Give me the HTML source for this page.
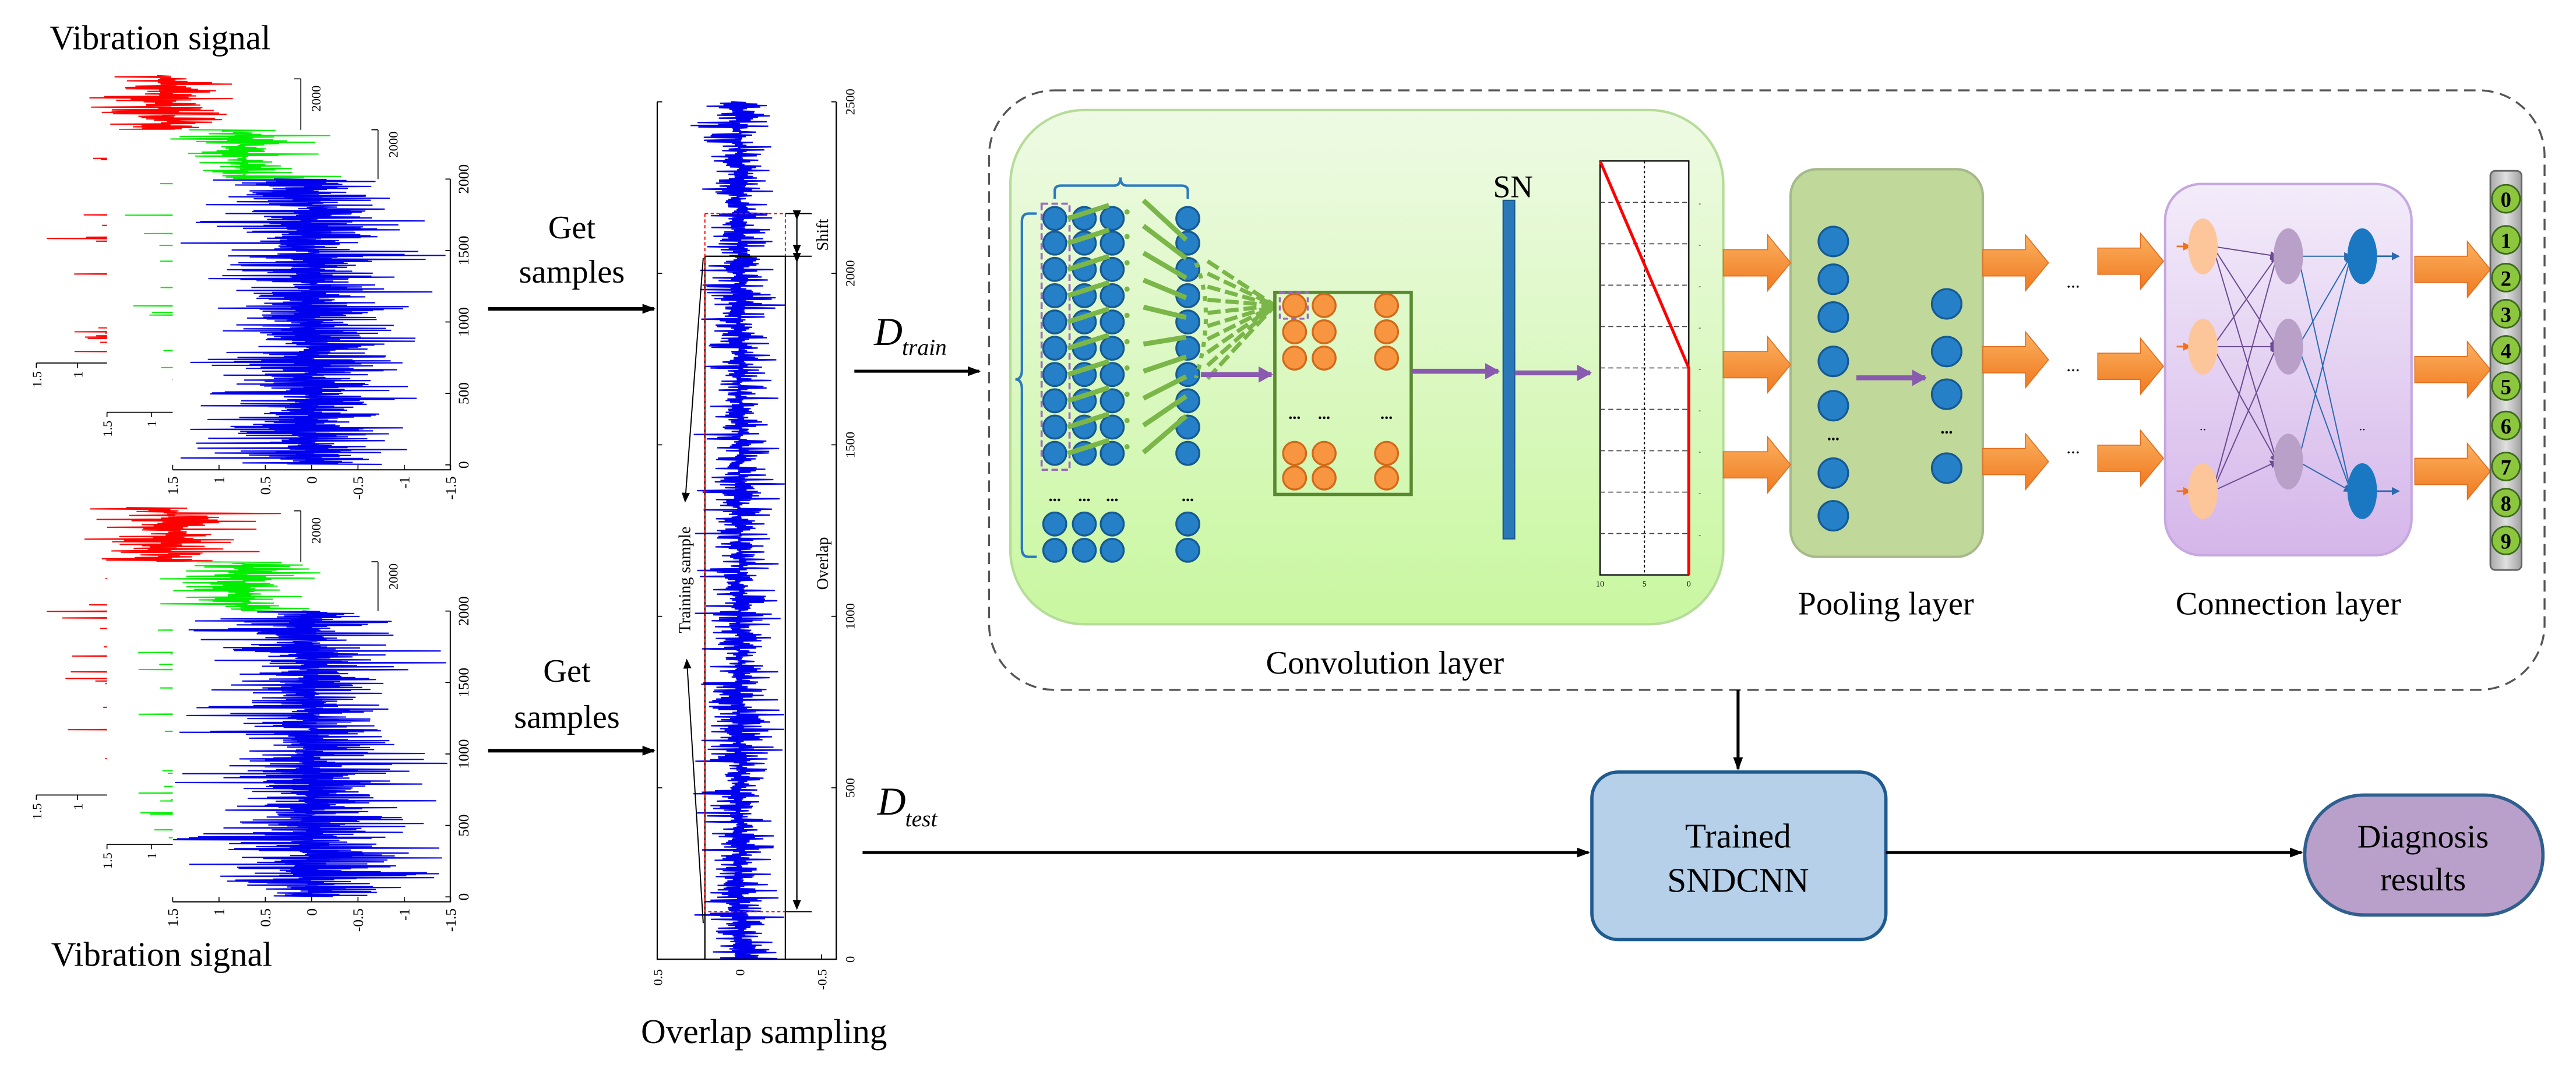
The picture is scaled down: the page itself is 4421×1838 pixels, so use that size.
<!DOCTYPE html>
<html><head><meta charset="utf-8"><style>
html,body{margin:0;padding:0;background:#fff;}
svg{display:block;}
text{font-family:"Liberation Serif",serif;}
</style></head><body>
<svg id="s" xmlns="http://www.w3.org/2000/svg" width="4421" height="1838" viewBox="0 0 1568 652">
<defs>
<marker id="ah" markerWidth="8" markerHeight="8" refX="7" refY="4" orient="auto" markerUnits="userSpaceOnUse"><path d="M0,1 L8,4 L0,7 Z" fill="#000"/></marker>
<marker id="ahs" markerWidth="6" markerHeight="6" refX="5" refY="3" orient="auto" markerUnits="userSpaceOnUse"><path d="M0,0.5 L6,3 L0,5.5 Z" fill="#000"/></marker>
<marker id="ap" markerWidth="10" markerHeight="10" refX="8" refY="5" orient="auto" markerUnits="userSpaceOnUse"><path d="M0,0 L9,5 L0,10 Z" fill="#8a5ab0"/></marker>
<marker id="apu" markerWidth="5" markerHeight="5" refX="4" refY="2.5" orient="auto" markerUnits="userSpaceOnUse"><path d="M0,0 L5,2.5 L0,5 Z" fill="#6a4a90"/></marker>
<marker id="abl" markerWidth="5" markerHeight="5" refX="4" refY="2.5" orient="auto" markerUnits="userSpaceOnUse"><path d="M0,0 L5,2.5 L0,5 Z" fill="#2a6ab0"/></marker>
<marker id="aor" markerWidth="5" markerHeight="5" refX="4" refY="2.5" orient="auto" markerUnits="userSpaceOnUse"><path d="M0,0 L5,2.5 L0,5 Z" fill="#f07020"/></marker>
<linearGradient id="gconv" x1="0" y1="0" x2="0" y2="1"><stop offset="0" stop-color="#eefae4"/><stop offset="1" stop-color="#c9f7a0"/></linearGradient>
<linearGradient id="gcon" x1="0" y1="0" x2="0" y2="1"><stop offset="0" stop-color="#f3ecfa"/><stop offset="1" stop-color="#d5b6ea"/></linearGradient>
<linearGradient id="gout" x1="0" y1="0" x2="1" y2="0"><stop offset="0" stop-color="#a8a8a8"/><stop offset="0.5" stop-color="#e0e0e0"/><stop offset="1" stop-color="#a0a0a0"/></linearGradient>
<linearGradient id="gor" x1="0" y1="0" x2="0" y2="1"><stop offset="0" stop-color="#fbb060"/><stop offset="1" stop-color="#f07a20"/></linearGradient>
</defs>
<g id="sig"></g>

<text x="30" y="30" font-size="21">Vibration signal</text>
<text x="31" y="588" font-size="21">Vibration signal</text>
<text x="348" y="145" font-size="20" text-anchor="middle">Get</text>
<text x="348" y="172" font-size="20" text-anchor="middle">samples</text>
<line x1="297" y1="188" x2="398" y2="188" stroke="#000" stroke-width="2.2" marker-end="url(#ah)"/>
<text x="345" y="415" font-size="20" text-anchor="middle">Get</text>
<text x="345" y="443" font-size="20" text-anchor="middle">samples</text>
<line x1="297" y1="457" x2="398" y2="457" stroke="#000" stroke-width="2.2" marker-end="url(#ah)"/>
<text x="465" y="635" font-size="21" text-anchor="middle">Overlap sampling</text>

<g id="ov"></g>

<text x="532" y="210" font-size="24" font-style="italic">D</text>
<text x="549" y="216" font-size="14" font-style="italic">train</text>
<line x1="520" y1="226" x2="596" y2="226" stroke="#000" stroke-width="1.8" marker-end="url(#ah)"/>
<text x="534" y="496" font-size="24" font-style="italic">D</text>
<text x="551" y="503" font-size="14" font-style="italic">test</text>
<line x1="525" y1="519" x2="967" y2="519" stroke="#000" stroke-width="1.8" marker-end="url(#ah)"/>

<rect x="602" y="55" width="947" height="365" rx="40" fill="none" stroke="#555" stroke-width="1.2" stroke-dasharray="7,4"/>
<rect x="615" y="67" width="434" height="313" rx="45" fill="url(#gconv)" stroke="#b5dc98" stroke-width="1.5"/>
<text x="843" y="410" font-size="20" text-anchor="middle">Convolution layer</text>
<g id="conv"></g>

<text x="921" y="120" font-size="19" text-anchor="middle">SN</text>
<rect x="915" y="122" width="7" height="206" fill="#2a78b8" stroke="#1c5a90" stroke-width="0.8"/>
<line x1="859" y1="226" x2="912" y2="226" stroke="#8a5ab0" stroke-width="3" marker-end="url(#ap)"/>
<line x1="922" y1="227" x2="968" y2="227" stroke="#8a5ab0" stroke-width="3" marker-end="url(#ap)"/>
<g id="plt"></g>

<rect x="1090" y="103" width="117" height="236" rx="16" fill="#c0d99b" stroke="#a6b98a" stroke-width="1.5"/>
<text x="1148" y="374" font-size="20" text-anchor="middle">Pooling layer</text>
<line x1="1130" y1="230" x2="1172" y2="230" stroke="#8a5ab0" stroke-width="3" marker-end="url(#ap)"/>
<rect x="1318" y="112" width="150" height="226" rx="22" fill="url(#gcon)" stroke="#c6a8e0" stroke-width="1.5"/>
<text x="1393" y="374" font-size="20" text-anchor="middle">Connection layer</text>
<g id="pc"></g>

<rect x="1516" y="104" width="19" height="243" rx="3" fill="url(#gout)" stroke="#666" stroke-width="1"/>
<g id="outc"></g>

<line x1="1058" y1="420" x2="1058" y2="468" stroke="#000" stroke-width="1.8" marker-end="url(#ah)"/>
<rect x="969" y="470" width="179" height="102" rx="16" fill="#b5d0e8" stroke="#1f5a90" stroke-width="2"/>
<text x="1058" y="516" font-size="21" text-anchor="middle">Trained</text>
<text x="1058" y="543" font-size="21" text-anchor="middle">SNDCNN</text>
<line x1="1148" y1="519" x2="1401" y2="519" stroke="#000" stroke-width="1.8" marker-end="url(#ah)"/>
<rect x="1403" y="484" width="145" height="73" rx="36" fill="#b9a0ca" stroke="#2f5f8f" stroke-width="2"/>
<text x="1475" y="516" font-size="20" text-anchor="middle">Diagnosis</text>
<text x="1475" y="542" font-size="20" text-anchor="middle">results</text>
</svg>
<script>
(function(){
var NS="http://www.w3.org/2000/svg";
function el(p,t,a,txt){var e=document.createElementNS(NS,t);for(var k in a)e.setAttribute(k,a[k]);if(txt!==undefined)e.textContent=txt;p.appendChild(e);return e;}
var seed=12345;function rnd(){seed=(seed*1103515245+12345)%2147483648;return seed/2147483648;}
function gauss(){var u=rnd()||1e-6,v=rnd();return Math.sqrt(-2*Math.log(u))*Math.cos(6.2832*v);}
var sig=document.getElementById('sig');
function wave(p,cx,y0,y1,amp,col,sw,step,cap){var d="";var flip=1;for(var y=y0;y<=y1;y+=step){var a=Math.abs(gauss())*amp;if(rnd()<0.03)a*=1.8;if(a>cap)a=cap*(0.85+0.15*rnd());flip=-flip;d+=(d?"L":"M")+(cx+flip*a).toFixed(1)+","+y.toFixed(2);}el(p,'path',{d:d,fill:'none',stroke:col,'stroke-width':sw});}
function group(dy){
 var g=el(sig,'g',{transform:'translate(0,'+dy+')'});
 wave(g,103,46,216,24,'#ff0000',0.7,0.4,78);
 el(g,'rect',{x:65,y:79,width:166,height:174,fill:'#fff'});
 el(g,'path',{d:'M183,48 V79 M179,48 H183',stroke:'#000','stroke-width':0.6,fill:'none'});
 el(g,'text',{x:0,y:0,'font-size':8,transform:'translate(195,52) rotate(-90)','text-anchor':'end'},'2000');
 el(g,'path',{d:'M22,221 H65 M22,221 v3 M47,221 v3',stroke:'#000','stroke-width':0.6,fill:'none'});
 el(g,'text',{'font-size':8,transform:'translate(25,226) rotate(-90)','text-anchor':'end'},'1.5');
 el(g,'text',{'font-size':8,transform:'translate(50,226) rotate(-90)','text-anchor':'end'},'1');
 wave(g,148,79,252,24,'#00ee00',0.7,0.4,72);
 el(g,'rect',{x:105,y:109,width:171,height:176,fill:'#fff'});
 el(g,'path',{d:'M230,79 V109 M226,79 H230',stroke:'#000','stroke-width':0.6,fill:'none'});
 el(g,'text',{'font-size':8,transform:'translate(242,80) rotate(-90)','text-anchor':'end'},'2000');
 el(g,'path',{d:'M65,251 H105 M65,251 v3 M92,251 v3',stroke:'#000','stroke-width':0.6,fill:'none'});
 el(g,'text',{'font-size':8,transform:'translate(68,256) rotate(-90)','text-anchor':'end'},'1.5');
 el(g,'text',{'font-size':8,transform:'translate(95,256) rotate(-90)','text-anchor':'end'},'1');
 wave(g,189,109,283,28,'#0000ee',0.75,0.3,84);
 el(g,'path',{d:'M105,286 H274 V109',stroke:'#000','stroke-width':0.7,fill:'none'});
 var lab=['1.5','1','0.5','0','-0.5','-1','-1.5'];
 for(var i=0;i<7;i++){var x=105+i*28.2;el(g,'line',{x1:x,y1:286,x2:x,y2:283,stroke:'#000','stroke-width':0.6});el(g,'text',{'font-size':9,transform:'translate('+(x+3)+',290) rotate(-90)','text-anchor':'end'},lab[i]);}
 var yl=['0','500','1000','1500','2000'];
 for(var i=0;i<5;i++){var y=283-i*43.5;el(g,'line',{x1:271,y1:y,x2:274,y2:y,stroke:'#000','stroke-width':0.6});el(g,'text',{'font-size':9,transform:'translate(285,'+y+') rotate(-90)','text-anchor':'middle'},yl[i]);}
}
group(0);group(263);
var ov=document.getElementById('ov');
wave(ov,450,62,584,10,'#0000ee',0.8,0.45,30);
el(ov,'path',{d:'M400,62 V584 H509 V62',stroke:'#000','stroke-width':0.8,fill:'none'});
var yl=['0','500','1000','1500','2000','2500'];
for(var i=0;i<6;i++){var y=584-i*104.4;el(ov,'line',{x1:400,y1:y,x2:403,y2:y,stroke:'#000','stroke-width':0.6});el(ov,'line',{x1:506,y1:y,x2:509,y2:y,stroke:'#000','stroke-width':0.6});el(ov,'text',{'font-size':8,transform:'translate(520,'+y+') rotate(-90)','text-anchor':'middle'},yl[i]);}
[['0.5',400],['0',450],['-0.5',500]].forEach(function(a){el(ov,'line',{x1:a[1],y1:584,x2:a[1],y2:581,stroke:'#000','stroke-width':0.6});el(ov,'text',{'font-size':8,transform:'translate('+(a[1]+3)+',590) rotate(-90)','text-anchor':'end'},a[0]);});
el(ov,'path',{d:'M429,156 V584 M478,156 V584 M429,156 H478',stroke:'#000','stroke-width':0.8,fill:'none'});
el(ov,'path',{d:'M429,130 H478 V156 M429,130 V555 H478',stroke:'#ff0000','stroke-width':0.7,fill:'none','stroke-dasharray':'2,1.5'});
el(ov,'path',{d:'M478,130 H494 M478,156 H494 M478,555 H494',stroke:'#000','stroke-width':0.7,fill:'none'});
el(ov,'line',{x1:485,y1:133,x2:485,y2:154,stroke:'#000','stroke-width':0.8,'marker-end':'url(#ahs)','marker-start':'url(#ahs)'});
el(ov,'line',{x1:485,y1:159,x2:485,y2:553,stroke:'#000','stroke-width':0.8,'marker-end':'url(#ahs)','marker-start':'url(#ahs)'});
el(ov,'text',{'font-size':10,transform:'translate(504,143) rotate(-90)','text-anchor':'middle'},'Shift');
el(ov,'text',{'font-size':10,transform:'translate(504,343) rotate(-90)','text-anchor':'middle'},'Overlap');
el(ov,'text',{'font-size':10,transform:'translate(420,353) rotate(-90)','text-anchor':'middle'},'Training sample');
el(ov,'line',{x1:428,y1:157,x2:417,y2:305,stroke:'#000','stroke-width':0.7,'marker-end':'url(#ahs)'});
el(ov,'line',{x1:428,y1:562,x2:418,y2:402,stroke:'#000','stroke-width':0.7,'marker-end':'url(#ahs)'});
var c=document.getElementById('conv');
var cols=[642,660,677,723],rows=[133,148,164,180,196,212,228,244,260,276];
el(c,'path',{d:'M642,121 V116 Q642,113 646,113 H678 Q682,113 682,108 Q682,113 686,113 H719 Q723,113 723,116 V121',stroke:'#2a7ac0','stroke-width':1.5,fill:'none'});
el(c,'path',{d:'M631,130 H626 Q622,130 622,135 V225 Q622,231 618,231 Q622,231 622,237 V334 Q622,339 626,339 H631',stroke:'#2a7ac0','stroke-width':1.5,fill:'none'});
function circ(p,x,y,r,f,s){el(p,'circle',{cx:x,cy:y,r:r,fill:f,stroke:s,'stroke-width':1.2});}
rows.forEach(function(y){cols.forEach(function(x){circ(c,x,y,7,'#2580c8','#175a92');});});
[319,335].forEach(function(y){cols.forEach(function(x){circ(c,x,y,7,'#2580c8','#175a92');});});
[642,660,677,723].forEach(function(x){el(c,'text',{x:x,y:305,'font-size':10,'text-anchor':'middle','font-weight':'bold'},'...');});
el(c,'rect',{x:634,y:124,width:17,height:162,fill:'none',stroke:'#9a6ac0','stroke-width':1.3,'stroke-dasharray':'4,2'});
rows.forEach(function(y,i){el(c,'line',{x1:650,y1:y,x2:675,y2:y-8,stroke:'#7ab648','stroke-width':3});
 el(c,'line',{x1:696,y1:y-8+i*0.5+(i<5?-3:3),x2:722,y2:185+(y-185)*0.75,stroke:'#7ab648','stroke-width':3});
 el(c,'line',{x1:735,y1:185+(y-185)*0.5,x2:776,y2:186,stroke:'#7ab648','stroke-width':2.5,'stroke-dasharray':'8,3'});
 el(c,'circle',{cx:686,cy:y-4,r:1.6,fill:'#7ab648'});});
el(c,'path',{d:'M728,160 Q740,190 728,230',stroke:'#7ab648','stroke-width':2.5,fill:'none','stroke-dasharray':'3,4'});
el(c,'rect',{x:776,y:178,width:83,height:123,fill:'none',stroke:'#5a8a30','stroke-width':2});
[186,202,218,276,291].forEach(function(y){[788,806,844].forEach(function(x){circ(c,x,y,7,'#f89540','#d06a1a');});});
[788,806,844].forEach(function(x){el(c,'text',{x:x,y:255,'font-size':10,'text-anchor':'middle','font-weight':'bold'},'...');});
el(c,'rect',{x:779,y:178,width:17,height:16,fill:'none',stroke:'#9a6ac0','stroke-width':1.2,'stroke-dasharray':'3,2'});
el(c,'line',{x1:731,y1:228,x2:774,y2:228,stroke:'#8a5ab0','stroke-width':3,'marker-end':'url(#ap)'});
var p=document.getElementById('plt');
el(p,'rect',{x:974,y:98,width:54,height:252,fill:'#fff',stroke:'#000','stroke-width':0.8});
for(var i=1;i<10;i++){var y=98+i*25.2;el(p,'line',{x1:974,y1:y,x2:1028,y2:y,stroke:'#444','stroke-width':0.6,'stroke-dasharray':'3,2'});el(p,'text',{x:1034,y:y+2,'font-size':4},'-');}
el(p,'line',{x1:1001,y1:98,x2:1001,y2:350,stroke:'#000','stroke-width':0.7,'stroke-dasharray':'1.5,1.5'});
el(p,'path',{d:'M974,98 L1028,224 V350',stroke:'#ff0000','stroke-width':1.8,fill:'none'});
el(p,'text',{x:974,y:357,'font-size':5,'text-anchor':'middle'},'10');
el(p,'text',{x:1001,y:357,'font-size':5,'text-anchor':'middle'},'5');
el(p,'text',{x:1028,y:357,'font-size':5,'text-anchor':'middle'},'0');
var pc=document.getElementById('pc');
function oarr(x0,x1,y){var h=8,H=17,hx=x1-14;el(pc,'path',{d:'M'+x0+','+(y-h)+' H'+hx+' V'+(y-H)+' L'+x1+','+y+' L'+hx+','+(y+H)+' V'+(y+h)+' H'+x0+' Z',fill:'url(#gor)',stroke:'#e07020','stroke-width':0.6});}
[160,222,283].forEach(function(y){oarr(1049,1090,y);});
[160,219,281].forEach(function(y){oarr(1207,1247,y);});
[159,223,279].forEach(function(y){oarr(1277,1317,y);});
[164,225,287].forEach(function(y){oarr(1470,1516,y);});
[175,226,276].forEach(function(y){el(pc,'text',{x:1262,y:y,'font-size':11,'text-anchor':'middle'},'...');});
[147,170,193,220,247,288,314].forEach(function(y){circ(pc,1116,y,9,'#2580c8','#175a92');});
[185,214,240,285].forEach(function(y){circ(pc,1185,y,9,'#2580c8','#175a92');});
el(pc,'text',{x:1116,y:268,'font-size':10,'text-anchor':'middle','font-weight':'bold'},'...');
el(pc,'text',{x:1185,y:264,'font-size':10,'text-anchor':'middle','font-weight':'bold'},'...');
var a=[[1341,150],[1341,211],[1341,299]],b=[[1393,156],[1393,211],[1393,281]],d=[[1438,156],[1438,299]];
a.forEach(function(s){b.forEach(function(t){el(pc,'line',{x1:s[0]+6,y1:s[1],x2:t[0]-7,y2:t[1],stroke:'#6a4a90','stroke-width':0.7,'marker-end':'url(#apu)'});});});
b.forEach(function(s){d.forEach(function(t){el(pc,'line',{x1:s[0]+6,y1:s[1],x2:t[0]-7,y2:t[1],stroke:'#2a6ab0','stroke-width':0.7,'marker-end':'url(#abl)'});});});
a.forEach(function(s){el(pc,'line',{x1:1325,y1:s[1],x2:1333,y2:s[1],stroke:'#f07020','stroke-width':1,'marker-end':'url(#aor)'});el(pc,'ellipse',{cx:s[0],cy:s[1],rx:9,ry:17,fill:'#fdc69a'});});
b.forEach(function(s){el(pc,'ellipse',{cx:s[0],cy:s[1],rx:9,ry:17,fill:'#b9a0c8'});});
d.forEach(function(s){el(pc,'line',{x1:1446,y1:s[1],x2:1460,y2:s[1],stroke:'#2a6ab0','stroke-width':1,'marker-end':'url(#abl)'});el(pc,'ellipse',{cx:s[0],cy:s[1],rx:9,ry:17,fill:'#1a78c2'});});
el(pc,'text',{x:1341,y:262,'font-size':8,'text-anchor':'middle'},'..');
el(pc,'text',{x:1438,y:262,'font-size':8,'text-anchor':'middle'},'..');
var oc=document.getElementById('outc');
[121,146,169,191,213,235,259,284,306,329].forEach(function(y,i){el(oc,'circle',{cx:1525.5,cy:y,r:8.5,fill:'#8cc63f',stroke:'#3a6a1a','stroke-width':1});el(oc,'text',{x:1525.5,y:y+5,'font-size':13,'font-weight':'bold','text-anchor':'middle'},String(i));});
})();
</script>
</body></html>
